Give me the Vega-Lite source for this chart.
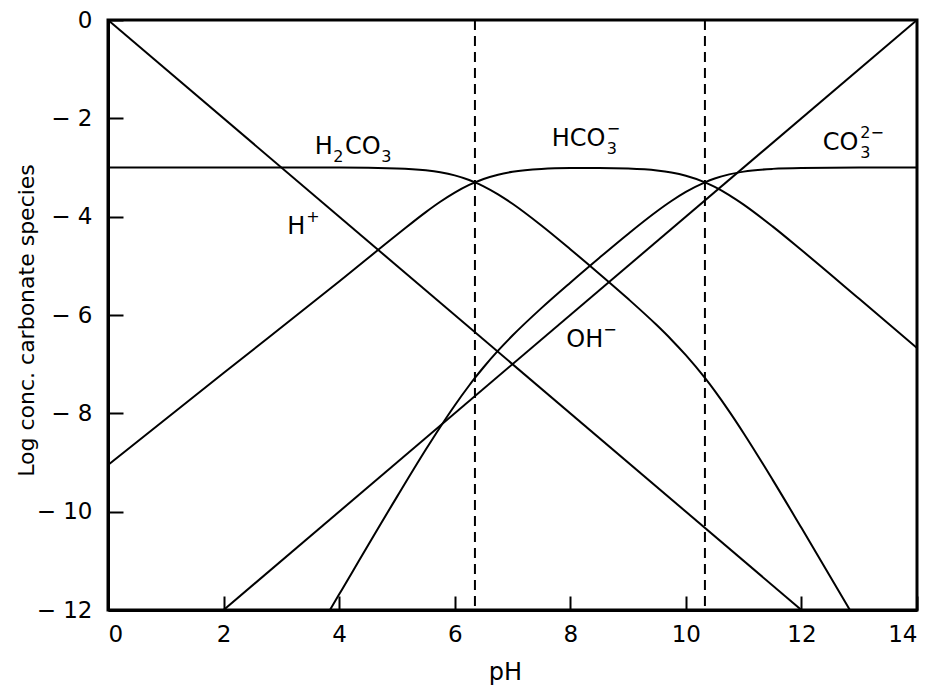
{
  "$schema": "https://vega.github.io/schema/vega-lite/v6.json",
  "width": 809,
  "height": 590,
  "autosize": "none",
  "padding": {"left": 108, "top": 20, "right": 10, "bottom": 76},
  "background": "white",
  "config": {
    "view": {"stroke": "black", "strokeWidth": 3},
    "font": "DejaVu Sans"
  },
  "datasets": {
    "curves": [
      {"species": "H+", "pH": 0, "log": 0},
      {"species": "H+", "pH": 12, "log": -12},
      {"species": "OH-", "pH": 2, "log": -12},
      {"species": "OH-", "pH": 14, "log": 0},
      {"species": "H2CO3", "pH": 0, "log": -3},
      {"species": "H2CO3", "pH": 4, "log": -3.002},
      {"species": "H2CO3", "pH": 5, "log": -3.019},
      {"species": "H2CO3", "pH": 5.5, "log": -3.057},
      {"species": "H2CO3", "pH": 5.75, "log": -3.097},
      {"species": "H2CO3", "pH": 6, "log": -3.16},
      {"species": "H2CO3", "pH": 6.25, "log": -3.254},
      {"species": "H2CO3", "pH": 6.35, "log": -3.301},
      {"species": "H2CO3", "pH": 6.5, "log": -3.383},
      {"species": "H2CO3", "pH": 6.75, "log": -3.546},
      {"species": "H2CO3", "pH": 7, "log": -3.738},
      {"species": "H2CO3", "pH": 7.5, "log": -4.18},
      {"species": "H2CO3", "pH": 8, "log": -4.662},
      {"species": "H2CO3", "pH": 8.5, "log": -5.16},
      {"species": "H2CO3", "pH": 9, "log": -5.671},
      {"species": "H2CO3", "pH": 9.5, "log": -6.21},
      {"species": "H2CO3", "pH": 9.75, "log": -6.502},
      {"species": "H2CO3", "pH": 10, "log": -6.817},
      {"species": "H2CO3", "pH": 10.33, "log": -7.281},
      {"species": "H2CO3", "pH": 10.5, "log": -7.544},
      {"species": "H2CO3", "pH": 10.75, "log": -7.96},
      {"species": "H2CO3", "pH": 11, "log": -8.404},
      {"species": "H2CO3", "pH": 11.5, "log": -9.348},
      {"species": "H2CO3", "pH": 12, "log": -10.329},
      {"species": "H2CO3", "pH": 13, "log": -12.321},
      {"species": "HCO3-", "pH": 0, "log": -9.05},
      {"species": "HCO3-", "pH": 2, "log": -7.18},
      {"species": "HCO3-", "pH": 4, "log": -5.32},
      {"species": "HCO3-", "pH": 5, "log": -4.369},
      {"species": "HCO3-", "pH": 5.5, "log": -3.907},
      {"species": "HCO3-", "pH": 5.75, "log": -3.697},
      {"species": "HCO3-", "pH": 6, "log": -3.51},
      {"species": "HCO3-", "pH": 6.25, "log": -3.354},
      {"species": "HCO3-", "pH": 6.35, "log": -3.301},
      {"species": "HCO3-", "pH": 6.5, "log": -3.233},
      {"species": "HCO3-", "pH": 6.75, "log": -3.146},
      {"species": "HCO3-", "pH": 7, "log": -3.088},
      {"species": "HCO3-", "pH": 7.5, "log": -3.03},
      {"species": "HCO3-", "pH": 8, "log": -3.012},
      {"species": "HCO3-", "pH": 8.5, "log": -3.01},
      {"species": "HCO3-", "pH": 9, "log": -3.021},
      {"species": "HCO3-", "pH": 9.5, "log": -3.06},
      {"species": "HCO3-", "pH": 9.75, "log": -3.102},
      {"species": "HCO3-", "pH": 10, "log": -3.167},
      {"species": "HCO3-", "pH": 10.33, "log": -3.301},
      {"species": "HCO3-", "pH": 10.5, "log": -3.394},
      {"species": "HCO3-", "pH": 10.75, "log": -3.56},
      {"species": "HCO3-", "pH": 11, "log": -3.754},
      {"species": "HCO3-", "pH": 11.5, "log": -4.198},
      {"species": "HCO3-", "pH": 12, "log": -4.679},
      {"species": "HCO3-", "pH": 13, "log": -5.671},
      {"species": "HCO3-", "pH": 14, "log": -6.67},
      {"species": "CO3 2-", "pH": 3.5, "log": -12.68},
      {"species": "CO3 2-", "pH": 4, "log": -11.682},
      {"species": "CO3 2-", "pH": 5, "log": -9.699},
      {"species": "CO3 2-", "pH": 5.5, "log": -8.737},
      {"species": "CO3 2-", "pH": 5.75, "log": -8.277},
      {"species": "CO3 2-", "pH": 6, "log": -7.84},
      {"species": "CO3 2-", "pH": 6.25, "log": -7.434},
      {"species": "CO3 2-", "pH": 6.35, "log": -7.281},
      {"species": "CO3 2-", "pH": 6.5, "log": -7.063},
      {"species": "CO3 2-", "pH": 6.75, "log": -6.726},
      {"species": "CO3 2-", "pH": 7, "log": -6.418},
      {"species": "CO3 2-", "pH": 7.5, "log": -5.86},
      {"species": "CO3 2-", "pH": 8, "log": -5.342},
      {"species": "CO3 2-", "pH": 8.5, "log": -4.84},
      {"species": "CO3 2-", "pH": 9, "log": -4.351},
      {"species": "CO3 2-", "pH": 9.5, "log": -3.89},
      {"species": "CO3 2-", "pH": 9.75, "log": -3.682},
      {"species": "CO3 2-", "pH": 10, "log": -3.497},
      {"species": "CO3 2-", "pH": 10.33, "log": -3.301},
      {"species": "CO3 2-", "pH": 10.5, "log": -3.224},
      {"species": "CO3 2-", "pH": 10.75, "log": -3.14},
      {"species": "CO3 2-", "pH": 11, "log": -3.084},
      {"species": "CO3 2-", "pH": 11.5, "log": -3.028},
      {"species": "CO3 2-", "pH": 12, "log": -3.009},
      {"species": "CO3 2-", "pH": 13, "log": -3.001},
      {"species": "CO3 2-", "pH": 14, "log": -3.0}
    ],
    "pka": [{"pKa": 6.35}, {"pKa": 10.33}],
    "labels": [
      {"part": "base", "text": "H", "pH": 3.58, "log": -2.58},
      {"part": "sub", "text": "2", "pH": 3.9, "log": -2.58},
      {"part": "base", "text": "CO", "pH": 4.1, "log": -2.58},
      {"part": "sub", "text": "3", "pH": 4.73, "log": -2.58},
      {"part": "base", "text": "HCO", "pH": 7.68, "log": -2.42},
      {"part": "sub", "text": "3", "pH": 8.63, "log": -2.42},
      {"part": "sup", "text": "−", "pH": 8.63, "log": -2.42},
      {"part": "base", "text": "CO", "pH": 12.37, "log": -2.5},
      {"part": "sub", "text": "3", "pH": 13.02, "log": -2.5},
      {"part": "sup", "text": "2−", "pH": 13.02, "log": -2.5},
      {"part": "base", "text": "H", "pH": 3.1, "log": -4.21},
      {"part": "sup", "text": "+", "pH": 3.43, "log": -4.21},
      {"part": "base", "text": "OH", "pH": 7.93, "log": -6.51},
      {"part": "sup", "text": "−", "pH": 8.57, "log": -6.51}
    ]
  },
  "layer": [
    {
      "data": {"name": "pka"},
      "mark": {"type": "rule", "color": "black", "strokeWidth": 2, "strokeDash": [10, 6]},
      "encoding": {
        "x": {"field": "pKa", "type": "quantitative", "scale": {"domain": [0, 14], "nice": false}}
      }
    },
    {
      "data": {"name": "curves"},
      "mark": {"type": "line", "color": "black", "strokeWidth": 2, "clip": true, "interpolate": "monotone"},
      "encoding": {
        "x": {
          "field": "pH", "type": "quantitative",
          "scale": {"domain": [0, 14], "nice": false},
          "axis": {
            "values": [0, 2, 4, 6, 8, 10, 12, 14], "format": "d", "grid": false,
            "domainColor": "black", "domainWidth": 3, "tickColor": "black", "tickWidth": 2,
            "tickSize": -14, "labelPadding": 27,
            "labelFont": "DejaVu Sans", "labelFontSize": 23, "labelColor": "black",
            "title": "pH", "titleFont": "DejaVu Sans", "titleFontSize": 24, "titleFontWeight": "normal", "titleColor": "black",
            "titleX": 397, "titleY": 62, "titleAlign": "center", "titleBaseline": "middle"
          }
        },
        "y": {
          "field": "log", "type": "quantitative",
          "scale": {"domain": [-12, 0], "nice": false},
          "axis": {
            "values": [0, -2, -4, -6, -8, -10, -12], "grid": false,
            "domainColor": "black", "domainWidth": 3, "tickColor": "black", "tickWidth": 2,
            "tickSize": -15, "labelPadding": 31,
            "labelFont": "DejaVu Sans", "labelFontSize": 23, "labelColor": "black",
            "labelExpr": "datum.value == 0 ? '0' : '− ' + abs(datum.value)",
            "title": "Log conc. carbonate species", "titleFont": "DejaVu Sans", "titleFontSize": 22, "titleFontWeight": "normal", "titleColor": "black",
            "titleX": -82, "titleY": 300,
            "titleAngle": -90, "titleAlign": "center", "titleBaseline": "middle"
          }
        },
        "detail": {"field": "species"},
        "order": {"field": "pH", "type": "quantitative"}
      }
    },
    {
      "data": {"name": "labels"},
      "transform": [{"filter": "datum.part == 'base'"}],
      "mark": {"type": "text", "align": "left", "baseline": "middle", "fontSize": 24, "color": "black"},
      "encoding": {
        "x": {"field": "pH", "type": "quantitative"},
        "y": {"field": "log", "type": "quantitative"},
        "text": {"field": "text"}
      }
    },
    {
      "data": {"name": "labels"},
      "transform": [{"filter": "datum.part == 'sub'"}],
      "mark": {"type": "text", "align": "left", "baseline": "middle", "fontSize": 16, "dy": 10, "color": "black"},
      "encoding": {
        "x": {"field": "pH", "type": "quantitative"},
        "y": {"field": "log", "type": "quantitative"},
        "text": {"field": "text"}
      }
    },
    {
      "data": {"name": "labels"},
      "transform": [{"filter": "datum.part == 'sup'"}],
      "mark": {"type": "text", "align": "left", "baseline": "middle", "fontSize": 16, "dy": -10, "color": "black"},
      "encoding": {
        "x": {"field": "pH", "type": "quantitative"},
        "y": {"field": "log", "type": "quantitative"},
        "text": {"field": "text"}
      }
    }
  ]
}
